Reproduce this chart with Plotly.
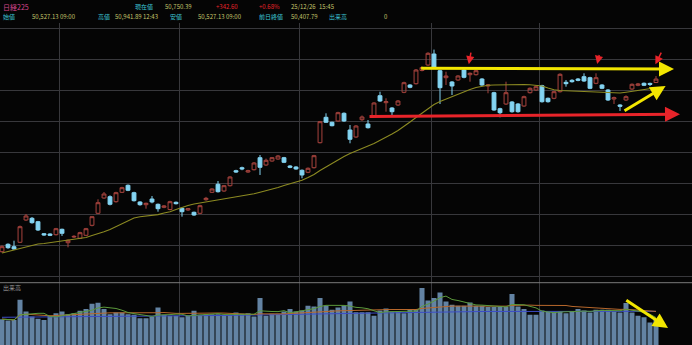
import numpy as np
import pandas as pd
import plotly.graph_objects as go

# ---- daily OHLC (Nikkei 225), oldest first ----
opens = [39613, 40091, 39936, 40220, 41658, 41768, 41549, 40775, 40755, 40710,
         41058, 40194, 40560, 40478, 40672, 41316, 42091, 43078, 43162, 42839,
         43446, 43897, 43420, 42820, 42646, 43013, 42671, 42478, 42336, 42800,
         42413, 42304, 42155, 42091, 42968, 43446, 43962, 43529, 43871, 44839,
         45033, 44755, 44904, 45678, 45207, 45465, 45594, 45678, 45142, 45078,
         44865, 44736, 45033, 46646, 48284, 47962, 48046, 48542, 47465, 47013,
         48129, 47852, 48304, 49678, 49226, 48884, 49078, 49897, 50368, 50452,
         51304, 51658, 52368, 51291, 50839, 50562, 50691, 51336, 51033, 51033,
         50755, 50304, 49871, 48839, 49142, 49271, 49142, 49013, 49871, 50046,
         50323, 49510, 49510, 49936, 50542, 50671, 50755, 50904, 50839, 50478,
         50368, 50046, 49465, 49078, 49400, 50110, 50349, 50478, 50470, 50527.13]
highs = [40020, 40150, 40323, 41300, 42046, 41850, 41600, 40820, 40800, 41150,
         41100, 40400, 40680, 40900, 41150, 41900, 42994, 43465, 43250, 43480,
         43800, 43950, 43480, 42870, 42780, 43207, 42720, 42620, 42900, 42850,
         42450, 42430, 42200, 42640, 43150, 43700, 44175, 43920, 44480, 44900,
         45100, 44900, 45400, 45852, 45620, 45720, 45850, 45730, 45200, 45130,
         44920, 45050, 45860, 48050, 48542, 48000, 48640, 48600, 47787, 47780,
         48400, 48110, 49260, 49936, 49510, 48940, 49400, 50580, 50420, 51400,
         51560, 52480, 52652, 51350, 51226, 50620, 51000, 51400, 51180, 51350,
         50810, 50420, 49930, 48900, 50581, 49330, 49200, 49680, 50210, 50320,
         50380, 49560, 49990, 51120, 50691, 50740, 50820, 51123, 50900, 51123,
         50420, 50100, 49620, 49130, 49700, 50470, 50500, 50530, 50520, 50941.89]
lows = [39560, 39800, 39740, 40180, 41600, 41420, 40950, 40640, 40620, 40660,
        40630, 39897, 40500, 40430, 40620, 41250, 42050, 43030, 42600, 42780,
        43400, 43520, 42850, 42580, 42387, 42736, 42194, 42420, 42280, 42660,
        41871, 42250, 41930, 42040, 42900, 43400, 43430, 43480, 43820, 44700,
        44870, 44700, 44850, 44562, 45150, 45420, 45550, 45330, 45000, 44900,
        44349, 44680, 44980, 46600, 47920, 47700, 48000, 47990, 46607, 46960,
        48050, 47560, 48250, 49280, 48646, 48387, 49020, 49840, 50160, 50400,
        51250, 51600, 51450, 49142, 50368, 49723, 50640, 50800, 50581, 50980,
        50310, 49833, 48700, 48284, 49080, 48580, 48580, 48960, 49820, 49990,
        49230, 49230, 49450, 49880, 50258, 50520, 50610, 50570, 50100, 50420,
        50100, 49340, 49142, 48691, 49340, 50050, 50290, 50300, 50300, 50527.13]
closes = [39936, 39872, 39788, 41226, 41917, 41485, 41013, 40691, 40671, 41097,
          40800, 40349, 40600, 40839, 41097, 41871, 42775, 43336, 42671, 43420,
          43742, 43575, 42904, 42646, 42736, 42820, 42387, 42562, 42839, 42710,
          42194, 42387, 41981, 42581, 43058, 43658, 43484, 43871, 44433, 44755,
          44949, 44839, 45336, 45058, 45510, 45678, 45788, 45381, 45058, 44949,
          44562, 44994, 45807, 48000, 47962, 47742, 48581, 48046, 46865, 47723,
          48304, 47613, 49207, 49336, 49291, 48646, 49336, 50517, 50220, 51336,
          51497, 52413, 51529, 50194, 50949, 50304, 50949, 50865, 51123, 51291,
          50368, 50368, 48755, 48581, 49871, 48646, 48646, 49613, 50155, 50258,
          49291, 49291, 49936, 51058, 50452, 50581, 50671, 50626, 50155, 50839,
          50155, 49400, 49549, 48994, 49613, 50413, 50433, 50349, 50407.79, 50750.39]

# 25-day moving average of the close
ma25 = [39529, 39626, 39723, 39787, 39916, 40026, 40110, 40142, 40194, 40239,
        40290, 40329, 40381, 40445, 40529, 40658, 40768, 40897, 41045, 41239,
        41432, 41626, 41787, 41871, 41916, 41955, 42006, 42110, 42194, 42335,
        42477, 42594, 42690, 42755, 42819, 42871, 42948, 43026, 43090, 43174,
        43239, 43284, 43348, 43445, 43542, 43639, 43755, 43884, 43981, 44090,
        44219, 44400, 44594, 44852, 45090, 45303, 45529, 45755, 45948, 46123,
        46271, 46432, 46594, 46787, 46981, 47206, 47432, 47690, 47981, 48271,
        48561, 48852, 49110, 49303, 49465, 49626, 49774, 49916, 50077, 50206,
        50303, 50355, 50368, 50381, 50394, 50400, 50400, 50394, 50381, 50355,
        50303, 50174, 50058, 50013, 49994, 49981, 49968, 49955, 49942, 49929,
        49903, 49865, 49839, 49852, 49903, 49968, 50032, 50090, 50142, 50194]

# volume (million shares)
volumes = [1650, 1560, 1605, 2890, 2138, 1817, 1669, 1605, 1862, 2035,
           2138, 1971, 2035, 2183, 2292, 2632, 2696, 2292, 1971, 2074,
           2074, 1971, 1926, 1714, 1714, 1817, 2395, 1926, 1862, 1862,
           1778, 1862, 2183, 1926, 1971, 1971, 1971, 1926, 1926, 2074,
           1990, 2035, 1817, 2998, 1862, 1990, 1990, 2138, 2292, 2138,
           2202, 2504, 2459, 2998, 2504, 2247, 2395, 2504, 2780, 2099,
           2099, 2099, 1862, 2202, 2330, 2138, 2138, 2035, 2247, 2292,
           3640, 2844, 2998, 3358, 2780, 2568, 2504, 2504, 2716, 2504,
           2504, 2420, 2420, 2420, 2420, 3255, 2459, 2292, 1926, 1926,
           2202, 2138, 2138, 2138, 2035, 2138, 2292, 2202, 2074, 2247,
           2247, 2247, 2138, 2074, 2677, 2074, 1862, 1778, 1432, 1605]

# long volume average (75-day)
vol_ma75 = [1770, 1772, 1775, 1778, 1780, 1782, 1785, 1788, 1790, 1793,
            1796, 1800, 1803, 1806, 1810, 1813, 1816, 1820, 1823, 1826,
            1830, 1833, 1836, 1840, 1843, 1846, 1850, 1853, 1856, 1860,
            1862, 1866, 1870, 1873, 1876, 1880, 1884, 1888, 1892, 1896,
            1900, 1905, 1910, 1915, 1920, 1925, 1930, 1936, 1942, 1948,
            1955, 1962, 1970, 1978, 1986, 1994, 2002, 2010, 2018, 2026,
            2034, 2040, 2046, 2052, 2058, 2064, 2070, 2076, 2082, 2088,
            2094, 2100, 2106, 2112, 2118, 2122, 2126, 2130, 2134, 2137,
            2140, 2142, 2144, 2146, 2148, 2150, 2151, 2152, 2152, 2153,
            2153, 2154, 2154, 2154, 2155, 2155, 2155, 2155, 2155, 2155,
            2155, 2155, 2155, 2155, 2154, 2154, 2153, 2153, 2152, 2152]

# trading days per month: Jul (partial) .. Dec
month_days = [10, 20, 20, 22, 18, 20]

n = len(closes)
idx = np.arange(n)
vol = pd.Series(volumes, dtype=float)
vol_ma5 = vol.rolling(5, min_periods=1).mean()
vol_ma25 = vol.rolling(25, min_periods=1).mean()
month_bounds = list(np.cumsum(month_days)[:-1] - 0.5)

BG = "#050505"
GRID = "#38383c"
UP = "#a8443e"
DOWN = "#84d4f2"

fig = go.Figure()

fig.add_trace(go.Candlestick(
    x=idx, open=opens, high=highs, low=lows, close=closes,
    increasing=dict(line=dict(color=UP, width=1), fillcolor="rgba(0,0,0,0)"),
    decreasing=dict(line=dict(color=DOWN, width=1), fillcolor=DOWN),
    whiskerwidth=0, xaxis="x", yaxis="y", hoverinfo="skip", showlegend=False))

fig.add_trace(go.Scatter(
    x=idx, y=ma25, mode="lines", line=dict(color="#8c8a22", width=1.1),
    xaxis="x", yaxis="y", hoverinfo="skip", showlegend=False))

fig.add_trace(go.Bar(
    x=idx, y=volumes, marker=dict(color="#6383a3", line=dict(width=0)),
    xaxis="x2", yaxis="y2", hoverinfo="skip", showlegend=False))

for series, col in ((vol_ma75, "#3c4cc8"), (vol_ma25, "#b8682c"), (vol_ma5, "#5c9a3c")):
    fig.add_trace(go.Scatter(
        x=idx, y=series, mode="lines", line=dict(color=col, width=1),
        xaxis="x2", yaxis="y2", hoverinfo="skip", showlegend=False))

W, H = 692, 345
price_top_px, split_px = 23, 282.7
xr = [-1 / 3, 115]

fig.update_layout(
    width=W, height=H, margin=dict(l=0, r=0, t=0, b=0),
    paper_bgcolor=BG, plot_bgcolor=BG, boxgap=0.08,
    xaxis=dict(domain=[0, 1], range=xr, tickvals=month_bounds, showticklabels=False,
               showgrid=True, gridcolor=GRID, gridwidth=1, zeroline=False,
               rangeslider=dict(visible=False), anchor="y", fixedrange=True),
    yaxis=dict(domain=[(H - split_px) / H, (H - price_top_px) / H],
               range=[37613, 54368], tickvals=list(range(38000, 56000, 2000)),
               showticklabels=False, showgrid=True, gridcolor=GRID, gridwidth=1,
               zeroline=False, anchor="x"),
    xaxis2=dict(domain=[0, 1], range=xr, tickvals=month_bounds, showticklabels=False,
                showgrid=True, gridcolor=GRID, gridwidth=1, zeroline=False, anchor="y2"),
    yaxis2=dict(domain=[0, (H - split_px) / H], range=[0, 3980],
                tickvals=[1000, 2000, 3000], showticklabels=False, showgrid=False,
                zeroline=False, anchor="x2"),
    bargap=0.16,
    font=dict(family="Noto Sans CJK JP", size=6),
)

# panel separator
fig.add_shape(type="line", xref="paper", yref="paper", x0=0, x1=1,
              y0=(H - split_px) / H, y1=(H - split_px) / H,
              line=dict(color="#7a7a7a", width=1))

# trend arrows
def arrow(x_tail, y_tail, x_head, y_head, color, width, yref="y", xref="x", size=1.0):
    fig.add_annotation(x=x_head, y=y_head, ax=x_tail, ay=y_tail,
                       xref=xref, yref=yref, axref=xref, ayref=yref,
                       text="", showarrow=True, arrowhead=2, arrowsize=size,
                       arrowwidth=width, arrowcolor=color)

YEL = "#f2e600"
RED = "#e8242a"
arrow(69.6, 51450, 112.0, 51400, YEL, 3)
arrow(61.0, 48340, 113.0, 48480, RED, 3)
arrow(103.5, 48650, 110.6, 50300, YEL, 3)
arrow(78.2, 52550, 77.8, 51700, RED, 1.5, size=1.1)
arrow(99.6, 52400, 99.2, 51720, RED, 1.5, size=1.1)
arrow(110.0, 52550, 108.9, 51700, RED, 1.5, size=1.1)
arrow(103.8, 2920, 111.0, 1090, YEL, 3, yref="y2", xref="x2")

# quote header
def txt(x_px, y_px, s, color, size=6):
    fig.add_annotation(x=x_px / W, y=1 - y_px / H, xref="paper", yref="paper",
                       text=s, showarrow=False, xanchor="left", yanchor="middle",
                       font=dict(color=color, size=size,
                                 family="Noto Sans CJK JP"))

LBL = "#3cc4d4"
VAL = "#c4c46a"
txt(1, 7, "日経225", "#d84890", size=7)
txt(133, 7, "現在値", LBL)
txt(163, 7, "50,750.39", VAL)
txt(214, 7, "+342.60", RED)
txt(257, 7, "+0.68%", RED)
txt(289, 7, "25/12/26", VAL)
txt(317, 7, "15:45", VAL)
txt(1, 17, "始値", LBL)
txt(30, 17, "50,527.13 09:00", VAL)
txt(96, 17, "高値", LBL)
txt(113, 17, "50,941.89 12:43", VAL)
txt(168, 17, "安値", LBL)
txt(196, 17, "50,527.13 09:00", VAL)
txt(257, 17, "前日終値", LBL)
txt(289, 17, "50,407.79", VAL)
txt(327, 17, "出来高", LBL)
txt(382, 17, "0", VAL)
txt(1, 287, "出来高", "#9a9a9a", size=6)

fig.write_html("out.html")
